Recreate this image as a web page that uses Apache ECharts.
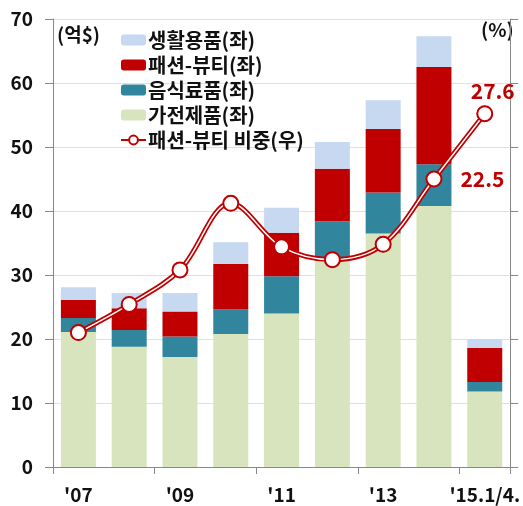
<!DOCTYPE html>
<html>
<head>
<meta charset="utf-8">
<script src="https://cdn.jsdelivr.net/npm/echarts@6/dist/echarts.min.js"></script>
<style>html,body{margin:0;padding:0;background:#fff;}#c{width:523px;height:506px;}</style>
</head>
<body>
<div id="c"></div>
<script>
const categories = ["'07","'08","'09","'10","'11","'12","'13","'14","'15.1/4."];
const appliances = [21.1, 18.8, 17.2, 20.8, 24.0, 32.4, 36.5, 40.8, 11.8];
const food       = [2.2, 2.6, 3.2, 3.8, 5.8, 6.0, 6.4, 6.5, 1.5];
const fashion    = [2.8, 3.4, 3.9, 7.1, 6.8, 8.2, 9.9, 15.2, 5.3];
const living     = [2.0, 2.4, 2.9, 3.4, 3.9, 4.2, 4.5, 4.8, 1.4];
const fashionShare = [10.5, 12.7, 15.4, 20.6, 17.2, 16.2, 17.4, 22.5, 27.6];
const leftTicks = [0, 70, 10];
const rightTicks = [0, 35, 5];

const FONT = '"Noto Sans CJK KR", "Noto Sans", sans-serif';
const RED = '#c00000';
const chart = echarts.init(document.getElementById('c'), null, {renderer: 'canvas'});

function bar(name, data, color) {
  return {name, type: 'bar', stack: 'total', data, barWidth: 35, yAxisIndex: 0,
    itemStyle: {color}, emphasis: {disabled: true}};
}
const shareLabels = fashionShare.map((v, i) => {
  if (i === categories.length - 1) return {value: v, label: {show: true, position: 'top', distance: 4, offset: [8, 0]}};
  if (i === categories.length - 2) return {value: v, label: {show: true, position: 'right', distance: 18}};
  return v;
});

chart.setOption({
  animation: false,
  grid: {left: 53, right: 11, top: 19, bottom: 39, containLabel: false},
  legend: {
    orient: 'vertical', left: 115, top: 25, itemWidth: 25, itemHeight: 11, itemGap: 5,
    textStyle: {fontFamily: FONT, fontSize: 20, fontWeight: 'bold', color: '#111', padding: [0,0,0,-3]},
    data: ['생활용품(좌)', '패션-뷰티(좌)', '음식료품(좌)', '가전제품(좌)', '패션-뷰티 비중(우)']
  },
  xAxis: {
    type: 'category', data: categories, boundaryGap: true,
    axisLine: {lineStyle: {color: '#888'}},
    axisTick: {show: true, length: 7, lineStyle: {color: '#888'}},
    axisLabel: {interval: 1, fontFamily: FONT, fontSize: 19, fontWeight: 'bold', color: '#111', margin: 18}
  },
  yAxis: [
    {type: 'value', min: leftTicks[0], max: leftTicks[1], interval: leftTicks[2],
     axisLine: {show: true, lineStyle: {color: '#888'}},
     axisTick: {show: true, length: 8, lineStyle: {color: '#888'}},
     splitLine: {lineStyle: {color: '#e0e0e0'}},
     axisLabel: {fontFamily: FONT, fontSize: 19, fontWeight: 'bold', color: '#111', margin: 20}},
    {type: 'value', min: rightTicks[0], max: rightTicks[1], interval: rightTicks[2], position: 'right',
     axisLine: {show: true, lineStyle: {color: '#888'}},
     axisTick: {show: true, length: 8, lineStyle: {color: '#888'}},
     splitLine: {show: false}, axisLabel: {show: false}}
  ],
  series: [
    bar('가전제품(좌)', appliances, '#d7e4bd'),
    bar('음식료품(좌)', food, '#31859c'),
    bar('패션-뷰티(좌)', fashion, RED),
    bar('생활용품(좌)', living, '#c6d9f1'),
    {name: '패션-뷰티 비중(우)', type: 'line', yAxisIndex: 1, data: fashionShare, smooth: 0.35,
     symbol: 'circle', symbolSize: 14, z: 3,
     itemStyle: {color: '#fff', borderColor: RED, borderWidth: 2},
     lineStyle: {color: RED, width: 5}, emphasis: {disabled: true}},
    {name: 'inner', type: 'line', yAxisIndex: 1, data: fashionShare, smooth: 0.35, symbol: 'none', z: 4,
     lineStyle: {color: '#fff', width: 1.5}, emphasis: {disabled: true}},
    {name: 'marks', type: 'line', yAxisIndex: 1, data: shareLabels, smooth: 0.35, symbol: 'circle', symbolSize: 15, z: 5,
     itemStyle: {color: '#fff', borderColor: RED, borderWidth: 2},
     lineStyle: {width: 0, opacity: 0}, emphasis: {disabled: true},
     label: {show: false, fontFamily: FONT, fontSize: 21, fontWeight: 'bold', color: RED}}
  ],
  graphic: [
    {type: 'text', left: 57, top: 25, style: {text: '(억$)', font: 'bold 19px ' + FONT, fill: '#111'}},
    {type: 'text', left: 481, top: 20, style: {text: '(%)', font: 'bold 19px ' + FONT, fill: '#111'}}
  ]
});
</script>
</body>
</html>
